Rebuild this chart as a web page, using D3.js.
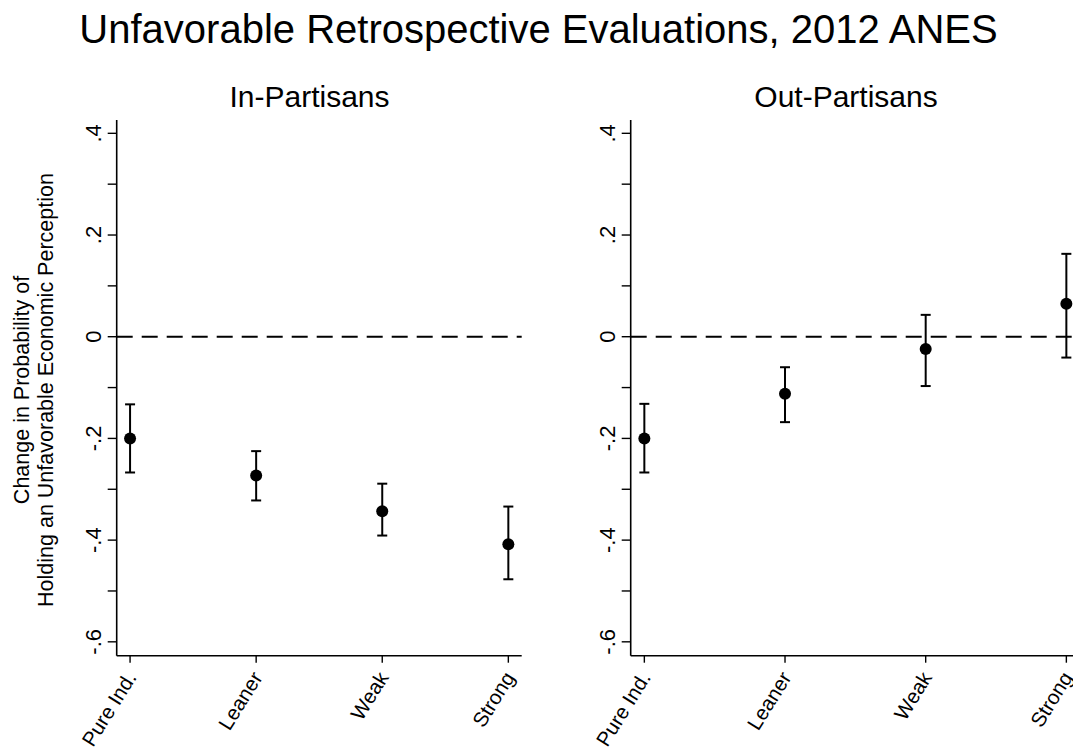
<!DOCTYPE html>
<html>
<head>
<meta charset="utf-8">
<script src="https://cdn.jsdelivr.net/npm/d3@7"></script>
<style>
  body { margin: 0; background: #fff; }
  svg { display: block; font-family: 'Liberation Sans', Arial, sans-serif; }
</style>
</head>
<body>
<div class="chart"></div>
<script>
const categories = ['Pure Ind.', 'Leaner', 'Weak', 'Strong'];

// in-partisans: estimate and 95% interval
const inEst = [-0.200, -0.273, -0.343, -0.408];
const inLo = [-0.267, -0.322, -0.391, -0.477];
const inHi = [-0.133, -0.225, -0.289, -0.334];

// out-partisans
const outEst = [-0.200, -0.112, -0.024, 0.065];
const outLo = [-0.267, -0.168, -0.097, -0.041];
const outHi = [-0.132, -0.060, 0.043, 0.163];

const yTicks = [-0.6, -0.5, -0.4, -0.3, -0.2, -0.1, 0, 0.1, 0.2, 0.3, 0.4];
const yLabels = { '-0.6': '-.6', '-0.4': '-.4', '-0.2': '-.2', '0': '0', '0.2': '.2', '0.4': '.4' };

const W = 1073, H = 751;
const svg = d3.select('.chart').append('svg').attr('width', W).attr('height', H);

svg.append('text')
  .attr('x', 538.5).attr('y', 42.5)
  .attr('text-anchor', 'middle')
  .style('font-size', '40px')
  .text('Unfavorable Retrospective Evaluations, 2012 ANES');

// y axis title (shared, on left panel)
const yt = svg.append('text')
  .attr('transform', 'translate(0,390) rotate(-90)')
  .attr('text-anchor', 'middle')
  .style('font-size', '21.5px');
yt.append('tspan').attr('x', 0).attr('y', 29).text('Change in Probability of');
yt.append('tspan').attr('x', 0).attr('y', 53).text('Holding an Unfavorable Economic Perception');

const y = d3.scaleLinear().domain([-0.6273, 0.4262]).range([655.7, 120]);

function drawPanel(opts) {
  const x = d3.scaleLinear().domain(opts.domain).range(opts.range);
  const g = svg.append('g');
  const x0 = opts.range[0], x1 = opts.range[1];
  const yb = y.range()[0];

  g.append('text')
    .attr('x', opts.titleX).attr('y', 107.3)
    .attr('text-anchor', 'middle')
    .style('font-size', '30px')
    .text(opts.title);

  // zero reference line
  g.append('line')
    .attr('x1', x0).attr('x2', x1)
    .attr('y1', y(0)).attr('y2', y(0))
    .attr('stroke', '#000').attr('stroke-width', 2)
    .attr('stroke-dasharray', '16,9');

  // y axis
  g.append('line')
    .attr('x1', x0).attr('x2', x0)
    .attr('y1', y.range()[1]).attr('y2', yb)
    .attr('stroke', '#000').attr('stroke-width', 1.6);
  g.selectAll('.ytick').data(yTicks).enter().append('line')
    .attr('x1', x0 - 9).attr('x2', x0)
    .attr('y1', (d) => y(d)).attr('y2', (d) => y(d))
    .attr('stroke', '#000').attr('stroke-width', 1.4);
  g.selectAll('.ylab').data(yTicks.filter((d) => yLabels[String(+d.toFixed(1))] !== undefined))
    .enter().append('text')
    .attr('transform', (d) => `translate(${x0 - 16},${y(d)}) rotate(-90)`)
    .attr('text-anchor', 'middle')
    .style('font-size', '22px')
    .text((d) => yLabels[String(+d.toFixed(1))]);

  // x axis
  g.append('line')
    .attr('x1', x0).attr('x2', x1)
    .attr('y1', yb).attr('y2', yb)
    .attr('stroke', '#000').attr('stroke-width', 1.6);
  g.selectAll('.xtick').data(categories).enter().append('line')
    .attr('x1', (d, i) => x(i + 1)).attr('x2', (d, i) => x(i + 1))
    .attr('y1', yb).attr('y2', yb + 7)
    .attr('stroke', '#000').attr('stroke-width', 1.4);
  g.selectAll('.xlab').data(categories).enter().append('text')
    .attr('transform', (d, i) => `translate(${x(i + 1) + 1},${yb + 18}) rotate(-58)`)
    .attr('text-anchor', 'end')
    .attr('dy', '0.35em')
    .style('font-size', '20.5px')
    .text((d) => d);

  // error bars
  const rows = categories.map((c, i) => ({ i, est: opts.est[i], lo: opts.lo[i], hi: opts.hi[i] }));
  const bars = g.selectAll('.ci').data(rows).enter().append('g');
  bars.append('line')
    .attr('x1', (d) => x(d.i + 1)).attr('x2', (d) => x(d.i + 1))
    .attr('y1', (d) => y(d.lo)).attr('y2', (d) => y(d.hi))
    .attr('stroke', '#000').attr('stroke-width', 2);
  ['lo', 'hi'].forEach((k) => {
    bars.append('line')
      .attr('x1', (d) => x(d.i + 1) - 5).attr('x2', (d) => x(d.i + 1) + 5)
      .attr('y1', (d) => y(d[k])).attr('y2', (d) => y(d[k]))
      .attr('stroke', '#000').attr('stroke-width', 2);
  });
  bars.append('circle')
    .attr('cx', (d) => x(d.i + 1)).attr('cy', (d) => y(d.est))
    .attr('r', 6).attr('fill', '#000');
}

drawPanel({
  title: 'In-Partisans', titleX: 309.5,
  domain: [0.894, 4.106], range: [116.7, 521.7],
  est: inEst, lo: inLo, hi: inHi
});
drawPanel({
  title: 'Out-Partisans', titleX: 846,
  domain: [0.903, 4.097], range: [630.7, 1080],
  est: outEst, lo: outLo, hi: outHi
});
</script>
</body>
</html>
